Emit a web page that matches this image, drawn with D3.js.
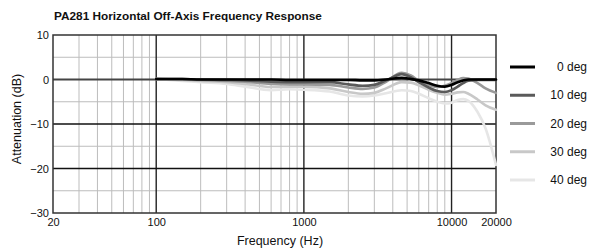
<!DOCTYPE html>
<html>
<head>
<meta charset="utf-8">
<script src="https://cdn.jsdelivr.net/npm/d3@7/dist/d3.min.js"></script>
<style>
  html, body { margin: 0; padding: 0; background: #fff; }
  svg { display: block; font-family: "Liberation Sans", Arial, Helvetica, sans-serif; }
</style>
</head>
<body>
<svg id="chart" width="592" height="252"></svg>
<script>
// ---- data ----
const title = "PA281 Horizontal Off-Axis Frequency Response";
const xTitle = "Frequency (Hz)";
const yTitle = "Attenuation (dB)";
const xTickValues = [20, 100, 1000, 10000, 20000];
const yTickValues = [-30, -20, -10, 0, 10];
const seriesNames = ["0 deg", "10 deg", "20 deg", "30 deg", "40 deg"];
const seriesColors = ["#000000", "#5a5a5a", "#9a9a9a", "#c8c8c8", "#e6e6e6"];
const freqs = [100, 150, 200, 300, 400, 600, 800, 1000, 1500, 2000, 2500, 3000, 3600, 4600, 5300, 6000, 7000, 8000, 9000, 10000, 11000, 12000, 13000, 15000, 17000, 20000];
const deg0  = [0.1, 0.1, 0, 0, 0, 0, -0.1, -0.1, -0.1, -0.1, -0.2, -0.2, 0, 0.4, 0.1, -0.2, -0.8, -1.4, -1.6, -1.2, -0.6, -0.2, 0, 0, 0, 0];
const deg10 = [0.1, 0.1, 0, -0.1, -0.2, -0.5, -0.6, -0.6, -0.6, -1.1, -1.4, -1.2, -0.2, 1.2, 0.5, -0.6, -1.8, -2.6, -2.8, -2.4, -1.6, -0.8, -0.3, -0.1, -0.1, -0.1];
const deg20 = [0.1, 0, -0.1, -0.3, -0.5, -1.0, -1.1, -1.1, -1.2, -1.8, -2.1, -1.8, -0.5, 1.5, 0.9, -0.3, -1.2, -1.7, -1.4, -0.8, -0.1, 0.3, 0.2, -0.8, -2.0, -3.0];
const deg30 = [0.1, -0.1, -0.3, -0.6, -1.0, -1.7, -1.6, -1.6, -2.0, -2.8, -3.2, -3.0, -2.0, -0.6, -0.7, -1.3, -2.3, -3.0, -3.4, -3.2, -2.9, -2.8, -3.2, -4.5, -5.8, -6.8];
const deg40 = [0.1, -0.3, -0.6, -1.0, -1.6, -2.4, -2.2, -2.3, -2.7, -3.6, -3.8, -3.6, -3.1, -2.4, -2.6, -3.2, -4.2, -5.0, -5.4, -5.2, -4.6, -4.4, -4.8, -7.3, -11.0, -19.2];
const seriesValues = [deg0, deg10, deg20, deg30, deg40];

// ---- layout ----
const svg = d3.select("#chart");
const pLeft = 53, pRight = 496, pTop = 35, pBottom = 213;
const x = d3.scaleLog().domain([20, 20000]).range([pLeft, pRight]);
const y = d3.scaleLinear().domain([-30, 10]).range([pBottom, pTop]);

// minor vertical grid
const minorX = [];
[10, 100, 1000, 10000].forEach(dec => {
  for (let m = 2; m <= 9; m++) {
    const v = dec * m;
    if (v > 20 && v < 20000) minorX.push(v);
  }
});
svg.append("g").selectAll("line").data(minorX).join("line")
  .attr("x1", d => x(d)).attr("x2", d => x(d))
  .attr("y1", pTop).attr("y2", pBottom)
  .attr("stroke", "#bdbdbd").attr("stroke-width", 1);

// minor horizontal grid (5 dB)
svg.append("g").selectAll("line").data([5, -5, -15, -25]).join("line")
  .attr("x1", pLeft).attr("x2", pRight)
  .attr("y1", d => y(d)).attr("y2", d => y(d))
  .attr("stroke", "#bdbdbd").attr("stroke-width", 1);

// major vertical grid
svg.append("g").selectAll("line").data([100, 1000, 10000]).join("line")
  .attr("x1", d => x(d)).attr("x2", d => x(d))
  .attr("y1", pTop).attr("y2", pBottom)
  .attr("stroke", "#222").attr("stroke-width", 1.4);

// major horizontal grid
svg.append("g").selectAll("line").data([-10, -20]).join("line")
  .attr("x1", pLeft).attr("x2", pRight)
  .attr("y1", d => y(d)).attr("y2", d => y(d))
  .attr("stroke", "#111").attr("stroke-width", 1.4);
svg.append("line")
  .attr("x1", pLeft).attr("x2", pRight)
  .attr("y1", y(0)).attr("y2", y(0))
  .attr("stroke", "#444").attr("stroke-width", 2);

// frame
svg.append("rect")
  .attr("x", pLeft).attr("y", pTop)
  .attr("width", pRight - pLeft).attr("height", pBottom - pTop)
  .attr("fill", "none").attr("stroke", "#333").attr("stroke-width", 1.5);

// curves
const line = d3.line()
  .x((d, i) => x(freqs[i]))
  .y(d => y(d))
  .curve(d3.curveMonotoneX);
const order = [4, 3, 2, 1, 0];
svg.append("g").selectAll("path").data(order).join("path")
  .attr("d", i => line(seriesValues[i]))
  .attr("fill", "none")
  .attr("stroke", i => seriesColors[i])
  .attr("stroke-width", 2.6)
  .attr("stroke-linejoin", "round")
  .attr("stroke-linecap", "round");

// axes
const xAxis = svg.append("g")
  .attr("transform", `translate(0,${pBottom})`)
  .call(d3.axisBottom(x).tickValues(xTickValues).tickFormat(d3.format("d")).tickSize(0).tickPadding(5));
xAxis.select(".domain").remove();
xAxis.selectAll("text").attr("font-size", 11).attr("fill", "#111")
  .attr("font-family", "Liberation Sans, Arial, sans-serif");

const yAxis = svg.append("g")
  .attr("transform", `translate(${pLeft},0)`)
  .call(d3.axisLeft(y).tickValues(yTickValues).tickFormat(d3.format("d")).tickSize(0).tickPadding(4));
yAxis.select(".domain").remove();
yAxis.selectAll("text").attr("font-size", 11).attr("fill", "#111")
  .attr("font-family", "Liberation Sans, Arial, sans-serif");

// titles
svg.append("text")
  .attr("x", 54).attr("y", 20)
  .attr("font-size", 11.8).attr("font-weight", "bold").attr("fill", "#111")
  .text(title);
svg.append("text")
  .attr("x", 280).attr("y", 245)
  .attr("text-anchor", "middle")
  .attr("font-size", 12.5).attr("fill", "#111")
  .text(xTitle);
svg.append("text")
  .attr("transform", "translate(21,119) rotate(-90)")
  .attr("text-anchor", "middle")
  .attr("font-size", 12.5).attr("fill", "#111")
  .text(yTitle);

// legend
const legY = d3.scalePoint().domain(seriesNames).range([67, 180]);
const leg = svg.append("g").selectAll("g").data(seriesNames).join("g")
  .attr("transform", d => `translate(0,${legY(d)})`);
leg.append("line")
  .attr("x1", 510).attr("x2", 535).attr("y1", 0).attr("y2", 0)
  .attr("stroke", (d, i) => seriesColors[i]).attr("stroke-width", 3);
leg.append("text")
  .attr("x", 587).attr("y", 0).attr("dy", "0.35em")
  .attr("text-anchor", "end")
  .attr("font-size", 12).attr("fill", "#111")
  .text(d => d);
</script>
</body>
</html>
